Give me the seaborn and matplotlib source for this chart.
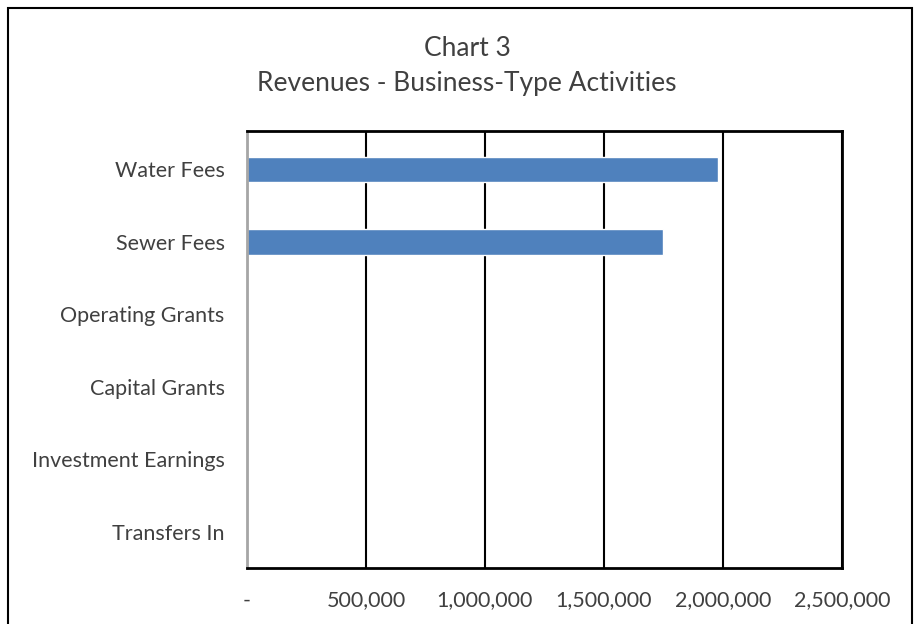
import pandas as pd
import seaborn as sns
import matplotlib.pyplot as plt
from matplotlib.patches import Rectangle
from matplotlib.ticker import FuncFormatter, MultipleLocator

# data
categories = ["Water Fees", "Sewer Fees", "Operating Grants", "Capital Grants",
              "Investment Earnings", "Transfers In"]
revenues = [1979000, 1748000, 0, 0, 0, 0]

df = pd.DataFrame({"category": categories, "revenue": revenues})

sns.set_style("white")
plt.rcParams["font.family"] = ["Lato", "DejaVu Sans"]
text_color = "#404040"

fig = plt.figure(figsize=(9.14, 6.24), dpi=100)
ax = fig.add_axes([0.2702, 0.0897, 0.6510, 0.7003])

sns.barplot(data=df, x="revenue", y="category", orient="h", color="#4F81BD",
            width=0.35, saturation=1, ax=ax)

ax.set_xlim(0, 2500000)
ax.set_ylim(5.5, -0.53)
ax.xaxis.set_major_locator(MultipleLocator(500000))
ax.xaxis.set_major_formatter(FuncFormatter(lambda v, p: "-" if v == 0 else f"{v:,.0f}"))
ax.grid(axis="x", color="black", linewidth=1.5)
ax.set_axisbelow(True)
ax.set_xlabel("")
ax.set_ylabel("")
ax.tick_params(axis="both", length=0, labelsize=15.5, colors=text_color)
ax.tick_params(axis="x", pad=16)
ax.tick_params(axis="y", pad=16)

for s in ["top", "right", "bottom"]:
    ax.spines[s].set_color("black")
    ax.spines[s].set_linewidth(2)
ax.spines["left"].set_color("#A6A6A6")
ax.spines["left"].set_linewidth(2)

fig.text(0.511, 0.923, "Chart 3", ha="center", va="center", fontsize=19, color=text_color)
fig.text(0.511, 0.866, "Revenues - Business-Type Activities", ha="center", va="center",
         fontsize=19, color=text_color)

# outer chart border (bottom is cut off in the original)
fig.patches.append(Rectangle((8 / 914, -0.1), 904 / 914, 1.1 - 8 / 624,
                             transform=fig.transFigure, fill=False,
                             edgecolor="black", linewidth=1.5))

fig.savefig("out.png", dpi=100)
